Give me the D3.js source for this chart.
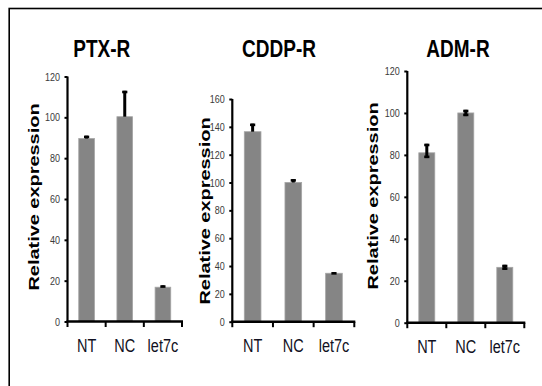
<!DOCTYPE html>
<html>
<head>
<meta charset="utf-8">
<script src="https://cdn.jsdelivr.net/npm/d3@7"></script>
<style>
  body { margin: 0; background: #fff; }
  svg { display: block; font-family: "Liberation Sans", Arial, sans-serif; }
</style>
</head>
<body>
<div id="chart"></div>
<script>
// Data
const categories = ["NT", "NC", "let7c"];
const titles = ["PTX-R", "CDDP-R", "ADM-R"];
const yMax = [120, 160, 120];
const yStep = 20;

const ptxValues = [89.6, 100.3, 16.8];
const ptxErrUp = [1.4, 12.7, 0.9];
const ptxErrDown = [0, 0, 0];

const cddpValues = [136.5, 100, 34.8];
const cddpErrUp = [5.8, 2.4, 0.8];
const cddpErrDown = [0, 0, 0];

const admValues = [81, 100, 26.4];
const admErrUp = [4.3, 1.5, 1.2];
const admErrDown = [2.5, 1.5, 1.2];

const series = [
  { values: ptxValues, up: ptxErrUp, down: ptxErrDown },
  { values: cddpValues, up: cddpErrUp, down: cddpErrDown },
  { values: admValues, up: admErrUp, down: admErrDown }
];

// Layout of each panel (pixels)
const layout = [
  { x0: 67.5, x1: 182, yTop: 76.5, yBot: 321.5, titleX: 101.7, labelX: 38.5, labelY: 197 },
  { x0: 232.3, x1: 354.3, yTop: 99, yBot: 321.7, titleX: 279, labelX: 209.5, labelY: 211 },
  { x0: 407.3, x1: 524.3, yTop: 71, yBot: 322.7, titleX: 458, labelX: 378, labelY: 196 }
];

const W = 542, H = 386;
const stretch = 1.25;  // the figure's text is stretched vertically

const svg = d3.select("#chart").append("svg")
  .attr("width", W)
  .attr("height", H);

// outer frame (only left and top edges visible)
svg.append("rect")
  .attr("x", 9.2).attr("y", 8.5)
  .attr("width", W + 20).attr("height", H + 20)
  .attr("fill", "none")
  .attr("stroke", "#000")
  .attr("stroke-width", 1.6);

function stretchedText(g, x, y, str, size, weight, anchor, k, rot) {
  return g.append("text")
    .attr("transform", "translate(" + x + "," + y + ") scale(1," + k + ")" + (rot ? " rotate(" + rot + ")" : ""))
    .attr("text-anchor", anchor)
    .attr("font-size", size)
    .attr("font-weight", weight)
    .text(str);
}

layout.forEach((L, p) => {
  const s = series[p];
  const g = svg.append("g");

  const x = d3.scaleBand().domain(categories).range([L.x0, L.x1]).padding(0);
  const y = d3.scaleLinear().domain([0, yMax[p]]).range([L.yBot, L.yTop]);
  const barW = x.bandwidth() * 0.41;

  // bars
  g.selectAll("rect.bar")
    .data(categories)
    .enter().append("rect")
    .attr("class", "bar")
    .attr("x", d => x(d) + (x.bandwidth() - barW) / 2)
    .attr("y", (d, i) => y(s.values[i]))
    .attr("width", barW)
    .attr("height", (d, i) => L.yBot - y(s.values[i]))
    .attr("fill", "#858585")
    .attr("stroke", "#a5a5a5")
    .attr("stroke-width", 0.8);

  // error bars
  categories.forEach((c, i) => {
    const cx = x(c) + x.bandwidth() / 2;
    const hi = y(s.values[i] + s.up[i]);
    const lo = y(s.values[i] - s.down[i]);
    g.append("line")
      .attr("x1", cx).attr("x2", cx)
      .attr("y1", hi).attr("y2", lo)
      .attr("stroke", "#000").attr("stroke-width", 3);
    g.append("line")
      .attr("x1", cx - 2.6).attr("x2", cx + 2.6)
      .attr("y1", hi + 1.2).attr("y2", hi + 1.2)
      .attr("stroke", "#000").attr("stroke-width", 2.6);
    if (s.down[i] > 0) {
      g.append("line")
        .attr("x1", cx - 2.6).attr("x2", cx + 2.6)
        .attr("y1", lo - 1.2).attr("y2", lo - 1.2)
        .attr("stroke", "#000").attr("stroke-width", 2.6);
    }
  });

  // y axis
  const yAxis = g.append("g")
    .attr("transform", "translate(" + L.x0 + ",0)")
    .call(d3.axisLeft(y).tickValues(d3.range(0, yMax[p] + 1, yStep)).tickSize(3).tickFormat(""));
  yAxis.select(".domain").attr("d", "M0," + L.yTop + "V" + L.yBot)
    .attr("stroke-width", 2.2);
  yAxis.selectAll(".tick line").attr("stroke-width", 2);

  d3.range(0, yMax[p] + 1, yStep).forEach(v => {
    stretchedText(g, L.x0 - 7.5, y(v), v, 9, "normal", "end", stretch)
      .attr("dy", "0.36em")
      .attr("fill", "#3a3a3a");
  });

  // x axis with ticks on category boundaries
  const xAxis = g.append("g")
    .attr("transform", "translate(0," + L.yBot + ")");
  xAxis.append("line")
    .attr("x1", L.x0 - 1).attr("x2", L.x1 + 1)
    .attr("stroke", "#000").attr("stroke-width", 2.4);
  const bounds = categories.map(c => x(c)).concat([x.range()[1]]);
  xAxis.selectAll("line.tk")
    .data(bounds)
    .enter().append("line")
    .attr("class", "tk")
    .attr("x1", d => d).attr("x2", d => d)
    .attr("y1", 0).attr("y2", 5.5)
    .attr("stroke", "#000").attr("stroke-width", 2);

  categories.forEach(c => {
    stretchedText(g, x(c) + x.bandwidth() / 2, L.yBot + 30.5, c, 14.5, "normal", "middle", stretch)
      .attr("fill", "#111122");
  });

  // title
  stretchedText(g, L.titleX, 56.5, titles[p], 19, "bold", "middle", stretch)
    .attr("fill", "#000");

  // y label
  stretchedText(g, L.labelX, L.labelY, "Relative expression", 15, "bold", "middle", 1.33, -90)
    .attr("fill", "#000");
});
</script>
</body>
</html>
